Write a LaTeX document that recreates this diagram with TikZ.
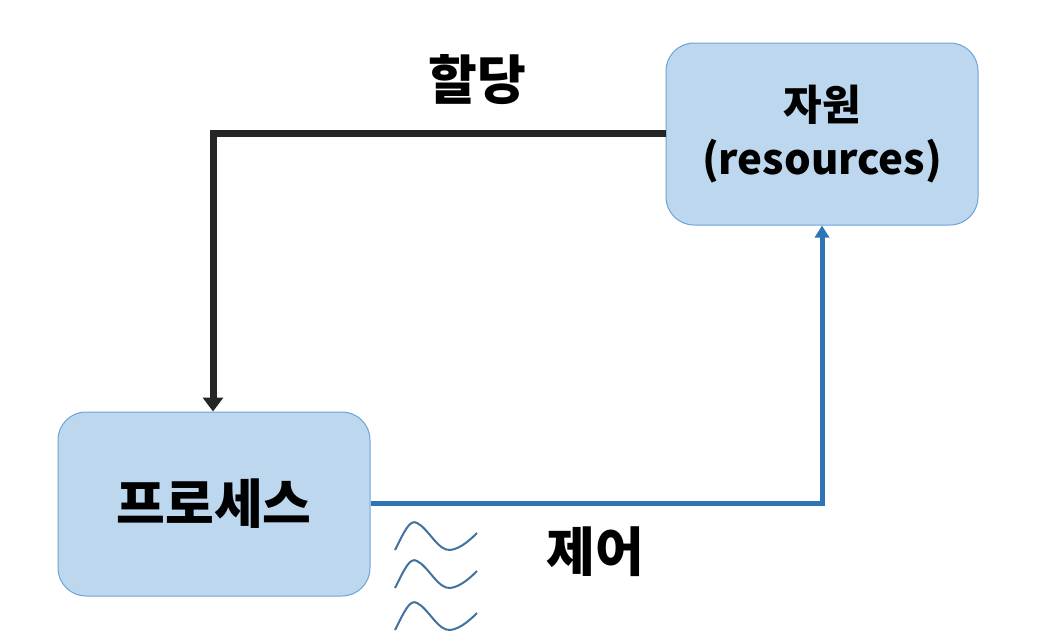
\documentclass[tikz,border=0pt]{standalone}
\usepackage{fontspec}
\setmainfont{Noto Sans CJK KR}
\usetikzlibrary{arrows.meta}
\begin{document}
\begin{tikzpicture}[x=1pt,y=-1pt,
  box/.style={draw=boxline,fill=boxfill,rounded corners=28pt,line width=1pt,inner sep=0pt},
  lbl/.style={font=\bfseries\fontsize{53}{56}\selectfont,text=black},
  wavy/.style={draw=waveblue,line width=2pt},
]
\definecolor{boxfill}{HTML}{BDD7EE}
\definecolor{boxline}{HTML}{6FA3D8}
\definecolor{darkline}{HTML}{262626}
\definecolor{blueline}{HTML}{2E75B6}
\definecolor{waveblue}{HTML}{41719C}
\useasboundingbox (0,0) rectangle (1040,640);
\node[box,minimum width=312pt,minimum height=182pt,align=center,
  font=\bfseries\fontsize{42}{54}\selectfont] (res) at (822,134) {자원\\(resources)};
\node[box,minimum width=312pt,minimum height=184pt,
  font=\bfseries\fontsize{53}{56}\selectfont] (proc) at (214,504) {프로세스};
\node[lbl] (alloc) at (477,80) {할당};
\node[lbl] (ctrl) at (595,552) {제어};
\coordinate (c1) at (213,133);
\coordinate (c2) at (822,503);
\draw[darkline,line width=7pt,-{Triangle[length=14pt,width=20pt]}] (res.west |- c1) -- (c1) -- (proc.north -| c1);
\draw[blueline,line width=5pt,-{Triangle[length=12pt,width=14pt]}] (proc.east |- c2) -- (c2) -- (res.south -| c2);
\foreach \dy in {0,38,80}{
  \draw[wavy] (395,550+\dy) .. controls (405,530+\dy) and (410,519+\dy) .. (417,523+\dy)
    .. controls (428,528+\dy) and (438,551+\dy) .. (450,550+\dy)
    .. controls (460,549+\dy) and (470,540+\dy) .. (477,533+\dy);
}
\end{tikzpicture}
\end{document}
